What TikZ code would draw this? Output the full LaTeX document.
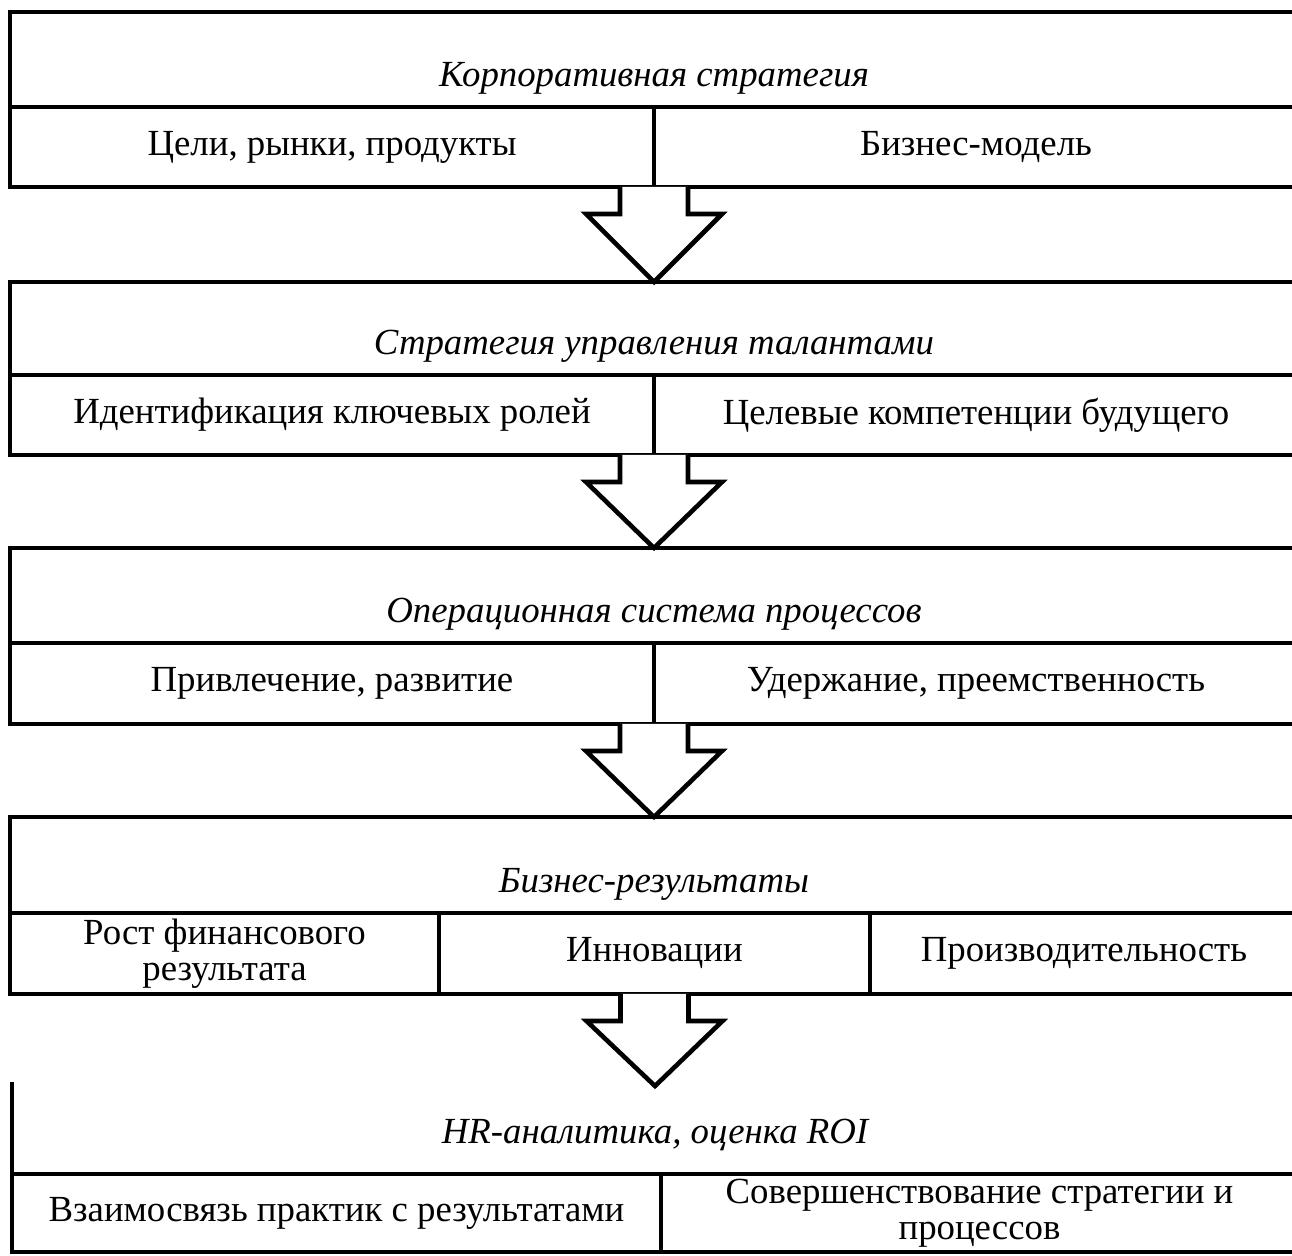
\documentclass[tikz,border=0pt]{standalone}
\usepackage{fontspec}
\setmainfont{Liberation Serif}
\usepackage{tikz}
\usetikzlibrary{calc}
\definecolor{ink}{HTML}{000000}
\tikzset{
  cell/.style={draw=ink,line width=2.3pt,outer sep=0pt,inner sep=0pt,
               align=center,font=\fontsize{18.4}{18}\selectfont},
  titletxt/.style={font=\fontsize{18.4}{18}\selectfont\itshape,inner sep=0pt},
  frame/.style={draw=ink,line width=2.3pt},
  bigarrow/.style={draw=ink,fill=white,line width=2.3pt,line join=miter}
}

\begin{document}
\begin{tikzpicture}[x=0.5pt,y=-0.5pt]
  \useasboundingbox (0,0) rectangle (1292,1256);
  \clip (0,0) rectangle (1292,1256);

  % block 1: corporate strategy
  \node[cell,minimum width=644pt,minimum height=47.5pt] (t1) at (654,59.5) {};
  \node[titletxt,anchor=base] (t1txt) at ([yshift=10pt]t1.south) {Корпоративная стратегия};
  \node[cell,minimum width=322pt,minimum height=40pt] (b1l) at (332,147) {Цели, рынки, продукты};
  \node[cell,minimum width=322pt,minimum height=40pt] (b1r) at (976,147) {Бизнес-модель};

  % block 2: talent strategy
  \node[cell,minimum width=644pt,minimum height=46.5pt] (t2) at (654,328.5) {};
  \node[titletxt,anchor=base] (t2txt) at ([yshift=10pt]t2.south) {Стратегия управления талантами};
  \node[cell,minimum width=322pt,minimum height=40pt] (b2l) at (332,415) {Идентификация ключевых ролей};
  \node[cell,minimum width=322pt,minimum height=40pt] (b2r) at (976,415) {Целевые компетенции будущего};

  % block 3: processes
  \node[cell,minimum width=644pt,minimum height=47.5pt] (t3) at (654,595.5) {};
  \node[titletxt,anchor=base] (t3txt) at ([yshift=10pt]t3.south) {Операционная система процессов};
  \node[cell,minimum width=322pt,minimum height=40.5pt] (b3l) at (332,683.5) {Привлечение, развитие};
  \node[cell,minimum width=322pt,minimum height=40.5pt] (b3r) at (976,683.5) {Удержание, преемственность};

  % block 4: business results, three cells
  \node[cell,minimum width=644pt,minimum height=48pt] (t4) at (654,865) {};
  \node[titletxt,anchor=base] (t4txt) at ([yshift=10pt]t4.south) {Бизнес-результаты};
  \node[cell,minimum width=214.5pt,minimum height=40.5pt] (b4l) at (224.5,953.5) {Рост финансового\\результата};
  \node[cell,minimum width=215.5pt,minimum height=40.5pt] (b4m) at (654.5,953.5) {Инновации};
  \node[cell,minimum width=214pt,minimum height=40.5pt] (b4r) at (1084,953.5) {Производительность};

  % block 5: analytics, open on top
  \node[minimum width=643pt,minimum height=44pt,outer sep=0pt,inner sep=0pt] (t5) at (655,1130) {};
  \draw[frame] ([yshift=2pt]t5.north west) -- (t5.south west);
  \node[titletxt,anchor=base] (t5txt) at ([yshift=15pt]t5.south) {HR-аналитика, оценка ROI};
  \node[cell,minimum width=324.5pt,minimum height=39pt] (b5l) at (336.5,1213) {Взаимосвязь практик с результатами};
  \node[cell,minimum width=318.5pt,minimum height=39pt] (b5r) at (979.5,1213) {Совершенствование стратегии и\\процессов};

  % block arrows between the blocks
  \coordinate (s1) at (b1l.south east);
  \coordinate (s2) at (b2l.south east);
  \coordinate (s3) at (b3l.south east);
  \coordinate (s4) at (b4m.south);
  \foreach \src/\dst in {s1/t2,s2/t3,s3/t4,s4/t5} {
    \draw[bigarrow] ($(\src)+(-34,0)$) -- ++(0,27) -- ++(-34,0) -- (\dst.north)
      -- ($(\src)+(68,27)$) -- ++(-34,0) -- ++(0,-27);
  }
\end{tikzpicture}
\end{document}
